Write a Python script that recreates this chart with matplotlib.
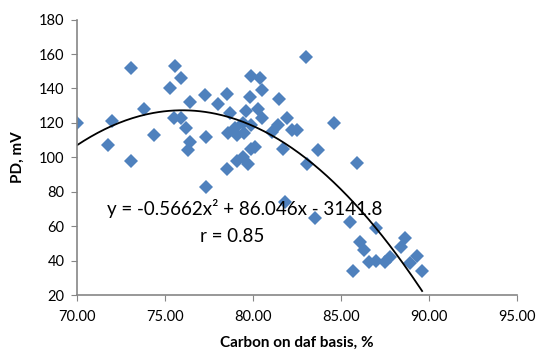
import numpy as np
import matplotlib
matplotlib.use("Agg")
import matplotlib.pyplot as plt

# carbon on daf basis (%) and PD (mV)
carbon = [70.0, 71.75, 72.0, 73.05, 73.05, 73.8, 74.4, 75.3, 75.55, 75.9,
          75.5, 75.9, 76.2, 76.4, 76.3, 76.4, 77.3, 77.25, 77.3,
          79.9, 80.4, 78.5, 78.0, 78.7, 79.8, 80.5, 79.6, 80.3, 80.5, 79.4,
          79.0, 79.9, 78.6, 79.5, 79.1,
          80.1, 79.9, 79.4, 79.1, 79.7, 78.5,
          81.5, 83.0, 84.6, 81.4, 81.9, 82.2, 82.5, 81.1, 81.7, 83.7, 83.05,
          81.8, 83.5, 85.9,
          85.5, 87.0, 86.1, 86.3, 86.6, 87.0, 87.5, 87.8, 88.4, 88.6, 88.9,
          89.3, 89.6, 85.7]
pd_mv = [120, 107, 121, 152, 98, 128, 113, 140, 153, 146,
         123, 123, 117, 109, 104, 132, 112, 136, 83,
         147, 146, 137, 131, 126, 135, 139, 127, 128, 123, 120,
         117, 119, 114, 114, 113,
         106, 105, 100, 98, 96, 93,
         134, 158, 120, 119, 123, 116, 116, 115, 105, 104, 96,
         74, 64.5, 96.5,
         62.4, 59, 50.6, 46, 39, 40, 39, 42, 48, 53, 38.5,
         43, 34, 34]

# trendline given on the chart
coef = [-0.5662, 86.046, -3141.8]
x_ticks = [70, 75, 80, 85, 90, 95]
y_ticks = [20, 40, 60, 80, 100, 120, 140, 160, 180]

plt.rcParams['font.family'] = ['Lato', 'DejaVu Sans']

fig = plt.figure(figsize=(5.41, 3.53), dpi=100)
ax = fig.add_axes([0.1423, 0.164, 0.8137, 0.7805])

ax.plot(carbon, pd_mv, linestyle="none", marker="D", ms=7.3,
        color="#4F81BD", markeredgewidth=0)

xs = np.linspace(70, max(carbon), 200)
ax.plot(xs, np.polyval(coef, xs), color="black", lw=1.3)

ax.text(79.55, 70.5, "y = -0.5662x\u00b2 + 86.046x - 3141.8", fontsize=13.5,
        ha="center", va="center")
ax.text(78.8, 54, "r = 0.85", fontsize=13.5, ha="center", va="center")

ax.set_xlim(70, 95)
ax.set_ylim(20, 180)
ax.set_xticks(x_ticks)
ax.set_xticklabels([f"{v:.2f}" for v in x_ticks])
ax.set_yticks(y_ticks)

for side in ["top", "right"]:
    ax.spines[side].set_visible(False)
for side in ["left", "bottom"]:
    ax.spines[side].set_color("#868686")
    ax.spines[side].set_linewidth(1.2)
ax.tick_params(direction="out", length=4, color="#868686", labelsize=10.5,
               labelcolor="black")
ax.tick_params(axis="x", pad=7)
ax.tick_params(axis="y", pad=5)

ax.set_xlabel("Carbon on daf basis, %", fontsize=11, fontweight="bold",
              labelpad=8)
ax.set_ylabel("PD, mV", fontsize=11, fontweight="bold", labelpad=10)

fig.savefig("out.png", dpi=100)
